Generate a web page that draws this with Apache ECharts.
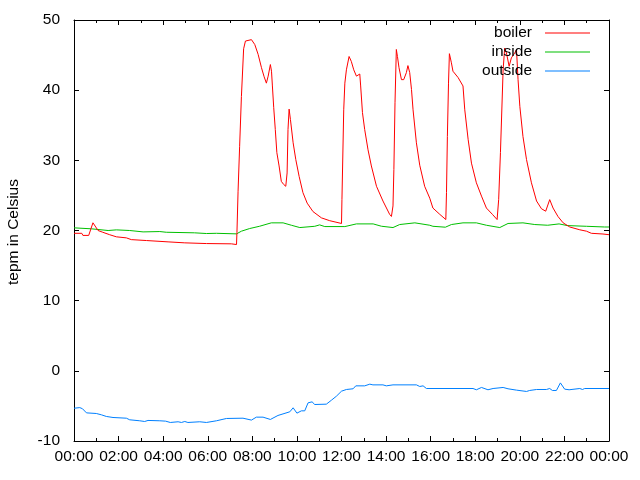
<!DOCTYPE html>
<html><head><meta charset="utf-8">
<script src="https://cdn.jsdelivr.net/npm/echarts@6/dist/echarts.min.js"></script>
<style>html,body{margin:0;padding:0;background:#fff}#c{width:640px;height:480px}</style>
</head><body><div id="c"></div>
<script>
// hours since midnight
const boilerT = [0,0.35,0.4,0.66,0.85,1.08,1.29,1.6,1.9,2.35,2.57,3.25,4.22,4.97,5.94,7.06,7.29,7.31,7.36,7.43,7.51,7.61,7.69,7.96,8.0,8.11,8.26,8.41,8.53,8.63,8.71,8.81,8.86,8.9,8.96,9.03,9.1,9.2,9.3,9.41,9.5,9.56,9.6,9.65,9.71,9.83,9.95,10.1,10.27,10.46,10.72,11.1,11.47,12.0,12.02,12.1,12.15,12.22,12.34,12.44,12.55,12.67,12.82,12.86,12.94,13.04,13.19,13.34,13.57,13.86,14.16,14.24,14.31,14.35,14.4,14.46,14.51,14.58,14.69,14.79,14.91,14.98,15.06,15.14,15.21,15.36,15.51,15.73,15.96,16.1,16.41,16.68,16.71,16.75,16.8,16.84,16.93,17.0,17.23,17.45,17.53,17.68,17.83,18.05,18.28,18.5,18.77,18.98,19.05,19.13,19.25,19.32,19.4,19.52,19.62,19.77,19.85,19.92,20.0,20.14,20.3,20.52,20.75,20.97,21.16,21.34,21.49,21.71,21.94,22.24,22.69,22.99,23.21,23.73,23.8,24.0];
const boilerV = [19.6,19.6,19.3,19.3,21.1,20.0,19.75,19.4,19.1,18.95,18.7,18.57,18.38,18.24,18.14,18.1,18.0,19.7,25.6,32,39.1,45.9,47.0,47.2,47.3,46.5,45.1,43.2,41.9,41.0,42.0,43.65,42.7,40.6,37.5,34.4,31.1,29.2,27.0,26.55,26.3,28.2,34.4,37.3,35.8,32.5,30.1,27.7,25.4,23.9,22.7,21.8,21.4,21.0,24.4,37.2,41.0,42.9,44.8,44.1,42.9,42.0,42.3,40.6,36.8,34.4,31.5,29.2,26.3,24.2,22.3,22.0,23.5,28.7,38.2,45.8,44.8,43.2,41.5,41.5,42.5,43.5,42.5,40.1,37.2,32.5,29.3,26.3,24.6,23.2,22.3,21.56,25.4,33.4,41.0,45.2,43.9,42.7,41.8,40.6,37.2,33.0,29.6,26.8,24.9,23.2,22.3,21.56,24.4,31.1,42.9,46.0,45.3,43.4,44.6,45.3,45.8,41.5,37.7,33.4,30.1,26.8,24.2,23.1,22.75,24.4,23.2,22.0,21.1,20.5,20.1,19.9,19.6,19.5,19.4,19.4];

const insideT = [0,0.78,1.53,1.9,2.5,3.1,3.85,4.14,5.4,5.94,6.39,7.29,7.51,7.88,8.33,8.85,9.38,9.75,10.13,10.8,11.02,11.25,12.15,12.67,13.42,13.79,14.31,14.61,15.29,15.96,16.1,16.66,16.93,17.45,18.05,18.5,19.1,19.47,20.14,20.67,21.25,21.76,22.13,22.99,23.8,24];
const insideV = [20.38,20.24,20.0,20.09,20.0,19.8,19.85,19.75,19.67,19.57,19.6,19.52,19.9,20.28,20.61,21.09,21.09,20.75,20.42,20.6,20.8,20.56,20.56,20.94,20.94,20.61,20.42,20.85,21.09,20.75,20.6,20.47,20.85,21.09,21.09,20.75,20.42,21.0,21.09,20.85,20.75,20.94,20.7,20.6,20.5,20.5];

const outsideT = [0,0.26,0.38,0.56,1.0,1.23,1.45,1.75,2.35,2.5,2.95,3.17,3.32,3.85,4.11,4.32,4.67,4.82,4.97,5.11,5.64,5.94,6.39,6.84,7.58,7.96,8.18,8.48,8.81,9.15,9.68,9.83,10.0,10.2,10.35,10.5,10.68,10.8,11.32,11.55,11.77,12.0,12.22,12.52,12.64,13.04,13.27,13.41,13.86,14.01,14.31,15.36,15.51,15.66,15.81,17.9,18.05,18.28,18.57,18.8,19.25,19.47,19.85,20.3,20.44,20.75,21.19,21.34,21.46,21.64,21.82,22.01,22.21,22.69,22.81,22.91,24.0];
const outsideV = [-5.33,-5.24,-5.4,-5.99,-6.08,-6.27,-6.5,-6.65,-6.75,-6.98,-7.12,-7.22,-7.07,-7.12,-7.17,-7.36,-7.26,-7.36,-7.22,-7.36,-7.26,-7.36,-7.12,-6.79,-6.75,-7.02,-6.6,-6.6,-6.93,-6.36,-5.84,-5.27,-6.03,-5.7,-5.7,-4.56,-4.42,-4.8,-4.75,-4.18,-3.62,-2.9,-2.66,-2.56,-2.14,-2.14,-1.9,-2.0,-2.0,-2.14,-2.0,-2.0,-2.23,-2.14,-2.52,-2.52,-2.7,-2.37,-2.7,-2.52,-2.37,-2.56,-2.75,-2.94,-2.8,-2.66,-2.66,-2.52,-2.8,-2.8,-1.72,-2.61,-2.7,-2.52,-2.66,-2.52,-2.52];

const seriesNames = ['boiler','inside','outside'];
const yTitle = 'tepm in Celsius';

const pair = (t, v) => t.map((x, i) => [x, v[i]]);
const FONT = '"Liberation Sans", Arial, sans-serif';
const FS = 15.5;
const fmtHour = v => { const h = Math.round(v) % 24; return (h < 10 ? '0' : '') + h + ':00'; };

const tickStyle = { color: '#000', width: 1 };
function xAx(pos, labels) {
  return {
    type: 'value', position: pos, min: 0, max: 24, interval: 2,
    axisLine: { show: true, onZero: false, lineStyle: tickStyle },
    axisTick: { show: true, inside: true, length: 5, lineStyle: tickStyle },
    minorTick: { show: true, splitNumber: 2, length: 3, lineStyle: tickStyle },
    splitLine: { show: false },
    axisLabel: { show: labels, formatter: fmtHour, fontSize: FS, color: '#000', fontFamily: FONT, margin: 8 }
  };
}
function yAx(pos, labels) {
  return {
    type: 'value', position: pos, min: -10, max: 50, interval: 10,
    axisLine: { show: true, onZero: false, lineStyle: tickStyle },
    axisTick: { show: true, inside: true, length: 5, lineStyle: tickStyle },
    splitLine: { show: false },
    axisLabel: { show: labels, fontSize: FS, color: '#000', fontFamily: FONT, margin: 14 }
  };
}

const chart = echarts.init(document.getElementById('c'), null, { renderer: 'canvas' });
const colors = ['#ff0000', '#00c000', '#0080ff'];
const datas = [pair(boilerT, boilerV), pair(insideT, insideV), pair(outsideT, outsideV)];
chart.setOption({
  animation: false,
  backgroundColor: '#fff',
  grid: { left: 74, right: 31, top: 20, bottom: 39, containLabel: false },
  xAxis: [xAx('bottom', true), xAx('top', false)],
  yAxis: [yAx('left', true), yAx('right', false)],
  legend: {
    data: seriesNames, orient: 'vertical', align: 'right', right: 50, top: 23.5, padding: 0,
    icon: 'rect', itemWidth: 45, itemHeight: 1.2, itemGap: 0,
    textStyle: { fontSize: FS, color: '#000', fontFamily: FONT, lineHeight: 19, padding: [0, 8, 0, 0] }
  },
  graphic: [{
    type: 'text', x: 14, y: 232, rotation: Math.PI / 2,
    style: { text: yTitle, fill: '#000', font: FS + 'px ' + FONT, textAlign: 'center', textVerticalAlign: 'middle' }
  }],
  series: seriesNames.map((n, i) => ({
    name: n, type: 'line', data: datas[i], xAxisIndex: 0, yAxisIndex: 0,
    symbol: 'none', showSymbol: false, color: colors[i],
    lineStyle: { color: colors[i], width: 1 }, z: 3 - i
  }))
});
</script></body></html>
